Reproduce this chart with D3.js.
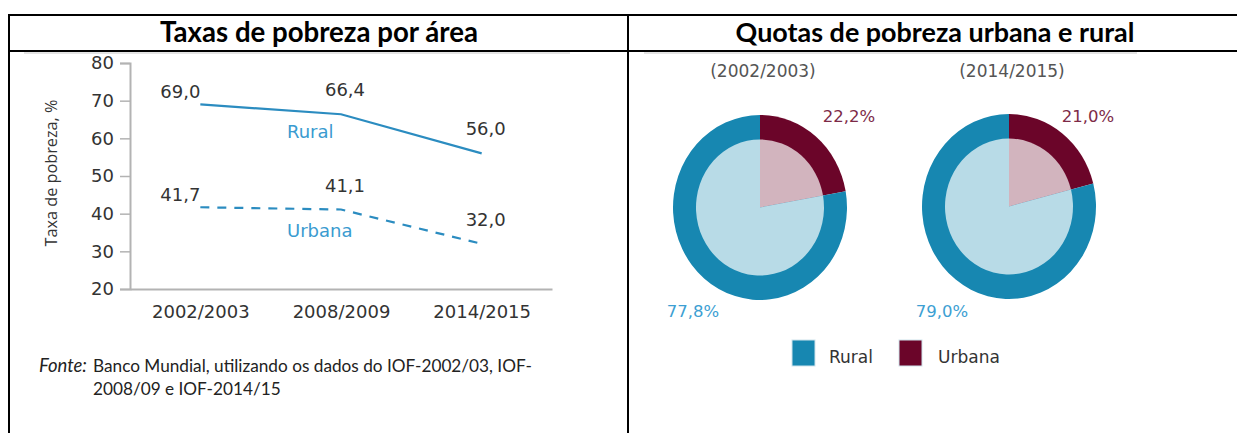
<!DOCTYPE html>
<html>
<head>
<meta charset="utf-8">
<script src="https://cdn.jsdelivr.net/npm/d3@7"></script>
<style>
	html, body { margin: 0; padding: 0; background: #fff; }
	svg { display: block; }
</style>
</head>
<body>
<div id="quadro"></div>
<script>
(function() {
	"use strict";

	// dados do grafico de linhas
	var periodos = ["2002/2003", "2008/2009", "2014/2015"];
	var taxaRural = [69.0, 66.4, 56.0];
	var taxaUrbana = [41.7, 41.1, 32.0];
	var yTicks = [20, 30, 40, 50, 60, 70, 80];

	// dados dos graficos circulares
	var anosQuota = ["(2002/2003)", "(2014/2015)"];
	var quotaUrbana = [22.2, 21.0];
	var quotaRural = [77.8, 79.0];
	var legenda = ["Rural", "Urbana"];

	var W = 1237, H = 433;
	var corRural = "#1787b1", corUrbana = "#6b0529";
	var corLinha = "#2b8cc0";
	var ptBR = d3.formatLocale({decimal: ",", thousands: ".", grouping: [3], currency: ["", ""]});
	var fmt = ptBR.format(".1f");

	var svg = d3.select("#quadro").append("svg")
		.attr("width", W)
		.attr("height", H);

	// ajusta o tamanho da fonte para uma largura alvo
	function ajusta(sel, largura) {
		var s = parseFloat(sel.style("font-size"));
		var w = sel.node().getComputedTextLength();
		sel.style("font-size", (s * largura / w) + "px");
		return s * largura / w;
	}

	/* moldura da tabela */
	var moldura = svg.append("g").attr("stroke", "#000").attr("stroke-width", 2);
	moldura.append("line").attr("x1", 8).attr("x2", W).attr("y1", 15).attr("y2", 15);
	moldura.append("line").attr("x1", 8).attr("x2", W).attr("y1", 51).attr("y2", 51);
	moldura.append("line").attr("x1", 9).attr("x2", 9).attr("y1", 14).attr("y2", H);
	moldura.append("line").attr("x1", 628).attr("x2", 628).attr("y1", 14).attr("y2", H);

	svg.append("line").attr("x1", 24).attr("x2", 570).attr("y1", 53).attr("y2", 53)
		.attr("stroke", "#c8c8c8").attr("stroke-width", 1);
	svg.append("line").attr("x1", 644).attr("x2", 1137).attr("y1", 53).attr("y2", 53)
		.attr("stroke", "#c8c8c8").attr("stroke-width", 1);

	var t1 = svg.append("text")
		.attr("x", 319).attr("y", 42)
		.attr("text-anchor", "middle")
		.style("font-family", "Lato, 'Open Sans', sans-serif")
		.style("font-weight", "bold")
		.style("font-size", "24px")
		.style("fill", "#000")
		.text("Taxas de pobreza por área");
	ajusta(t1, 318);

	var t2 = svg.append("text")
		.attr("x", 935).attr("y", 42)
		.attr("text-anchor", "middle")
		.style("font-family", "Lato, 'Open Sans', sans-serif")
		.style("font-weight", "bold")
		.style("font-size", "24px")
		.style("fill", "#000")
		.text("Quotas de pobreza urbana e rural");
	ajusta(t2, 399);

	/* grafico de linhas */
	var x = d3.scalePoint().domain(periodos).range([130, 552]).padding(0.5);
	var y = d3.scaleLinear().domain([20, 80]).range([289, 63]);

	var gEixo = svg.append("g")
		.style("font-family", "'DejaVu Sans', sans-serif");

	var eixoY = gEixo.append("g")
		.attr("transform", "translate(130,0)")
		.call(d3.axisLeft(y).tickValues(yTicks).tickSize(10).tickPadding(6));
	eixoY.select(".domain").attr("stroke", "#b3b3b3").attr("stroke-width", 2);
	eixoY.selectAll(".tick line").attr("stroke", "#b3b3b3").attr("stroke-width", 1.5);
	eixoY.selectAll(".tick text")
		.style("font-size", "18px")
		.style("font-family", "'DejaVu Sans', sans-serif")
		.attr("fill", "#333");

	var eixoX = gEixo.append("g")
		.attr("transform", "translate(0,289)")
		.call(d3.axisBottom(x).tickSize(0).tickPadding(16));
	eixoX.select(".domain").attr("stroke", "#b3b3b3").attr("stroke-width", 2);
	eixoX.selectAll(".tick text")
		.style("font-size", "18px")
		.style("font-family", "'DejaVu Sans', sans-serif")
		.attr("fill", "#333");

	var tituloY = svg.append("text")
		.attr("transform", "translate(57,173) rotate(-90)")
		.attr("text-anchor", "middle")
		.style("font-family", "'Open Sans', sans-serif")
		.style("font-size", "17px")
		.style("fill", "#333")
		.text("Taxa de pobreza, %");
	ajusta(tituloY, 147);

	var linha = d3.line()
		.x(function(d, i) { return x(periodos[i]); })
		.y(function(d) { return y(d); });

	var series = [
		{nome: "Rural", valores: taxaRural, traco: null, lx: 287, ly: 138},
		{nome: "Urbana", valores: taxaUrbana, traco: "9,8", lx: 287, ly: 237}
	];

	series.forEach(function(s) {
		svg.append("path")
			.datum(s.valores)
			.attr("d", linha)
			.attr("fill", "none")
			.attr("stroke", corLinha)
			.attr("stroke-width", 2.2)
			.attr("stroke-dasharray", s.traco);

		svg.append("g").selectAll("text")
			.data(s.valores)
			.join("text")
			.attr("x", function(d, i) { return i === 0 ? x(periodos[i]) : x(periodos[i]) + 4; })
			.attr("y", function(d, i) { return i === 0 ? y(d) - 6 : y(d) - 18; })
			.attr("text-anchor", function(d, i) { return i === 0 ? "end" : "middle"; })
			.style("font-family", "'DejaVu Sans', sans-serif")
			.style("font-size", "18px")
			.style("fill", "#333")
			.text(function(d) { return fmt(d); });

		svg.append("text")
			.attr("x", s.lx).attr("y", s.ly)
			.style("font-family", "'DejaVu Sans', sans-serif")
			.style("font-size", "18px")
			.style("fill", "#3a9bd0")
			.text(s.nome);
	});

	// fonte dos dados
	var fonte = svg.append("g")
		.style("font-family", "Lato, 'Open Sans', sans-serif")
		.style("fill", "#222");
	var f0 = fonte.append("text")
		.attr("x", 39).attr("y", 372)
		.style("font-style", "italic")
		.style("font-size", "15px")
		.text("Fonte:");
	ajusta(f0, 48);
	var f1 = fonte.append("text")
		.attr("x", 93).attr("y", 372)
		.style("font-size", "15px")
		.text("Banco Mundial, utilizando os dados do IOF-2002/03, IOF-");
	var fs = ajusta(f1, 439);
	fonte.append("text")
		.attr("x", 93).attr("y", 395)
		.style("font-size", fs + "px")
		.text("2008/09 e IOF-2014/15");

	/* graficos circulares */
	var centros = [[760, 207.5], [1009, 206.5]];
	var dxUrbana = [89, 79];
	var pie = d3.pie().sort(null).value(function(d) { return d.v; });
	var arcoFora = d3.arc().innerRadius(0).outerRadius(87);
	var arcoDentro = d3.arc().innerRadius(0).outerRadius(64);

	anosQuota.forEach(function(ano, k) {
		var c = centros[k];
		var fatias = pie([
			{nome: "Urbana", v: quotaUrbana[k], cor: corUrbana, claro: "#d2b4be"},
			{nome: "Rural", v: quotaRural[k], cor: corRural, claro: "#b8dbe7"}
		]);

		var g = svg.append("g")
			.attr("transform", "translate(" + c[0] + "," + c[1] + ") scale(1,1.063)");
		g.selectAll("path.fora")
			.data(fatias)
			.join("path")
			.attr("class", "fora")
			.attr("d", arcoFora)
			.attr("fill", function(d) { return d.data.cor; });
		g.selectAll("path.dentro")
			.data(fatias)
			.join("path")
			.attr("class", "dentro")
			.attr("d", arcoDentro)
			.attr("fill", function(d) { return d.data.claro; });

		svg.append("text")
			.attr("x", c[0] + 3).attr("y", 77)
			.attr("text-anchor", "middle")
			.style("font-family", "'DejaVu Sans', sans-serif")
			.style("font-size", "17px")
			.style("fill", "#555")
			.text(ano);

		svg.append("text")
			.attr("x", c[0] + dxUrbana[k]).attr("y", 122)
			.attr("text-anchor", "middle")
			.style("font-family", "'DejaVu Sans', sans-serif")
			.style("font-size", "16.5px")
			.style("fill", "#7d2a47")
			.text(fmt(quotaUrbana[k]) + "%");

		svg.append("text")
			.attr("x", c[0] - 67).attr("y", 317)
			.attr("text-anchor", "middle")
			.style("font-family", "'DejaVu Sans', sans-serif")
			.style("font-size", "16.5px")
			.style("fill", "#3d9fd3")
			.text(fmt(quotaRural[k]) + "%");
	});

	// legenda
	var legX = [792, 899];
	var legCor = [corRural, corUrbana];
	var leg = svg.append("g").selectAll("g")
		.data(legenda)
		.join("g")
		.attr("transform", function(d, i) { return "translate(" + legX[i] + ",340)"; });
	leg.append("rect")
		.attr("width", 23).attr("height", 26)
		.attr("fill", function(d, i) { return legCor[i]; })
		.attr("stroke", "#cfe3ec")
		.attr("stroke-width", 1);
	leg.append("text")
		.attr("x", function(d, i) { return i === 0 ? 37 : 39; })
		.attr("y", 23)
		.style("font-family", "'DejaVu Sans', sans-serif")
		.style("font-size", "17px")
		.style("fill", "#333")
		.text(function(d) { return d; });
})();
</script>
</body>
</html>
